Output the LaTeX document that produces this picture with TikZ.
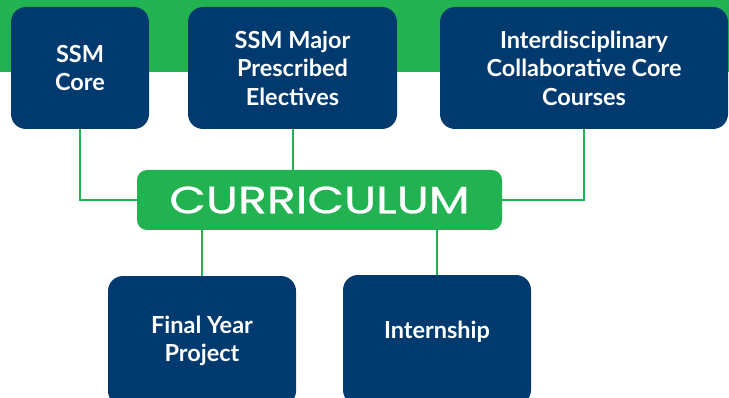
\documentclass[tikz,border=0pt]{standalone}
\usepackage{fontspec}
\setmainfont{Lato}
\newfontfamily\hubfont{Poppins}[FakeBold=0.6]
\usetikzlibrary{calc}
\definecolor{navy}{RGB}{0,58,110}
\definecolor{leaf}{RGB}{35,178,82}

\begin{document}
\begin{tikzpicture}[x=1pt,y=1pt,
  box/.style={fill=navy,text=white,rounded corners=15pt,minimum width=#1,minimum height=122pt,align=center,
    font=\fontsize{23.5}{28.5}\selectfont\bfseries,inner sep=0pt},
  hub/.style={fill=leaf,text=white,rounded corners=10pt,minimum width=365pt,minimum height=60pt,inner sep=0pt,
    font=\hubfont\fontsize{38}{40}\selectfont},
  link/.style={draw=leaf,line width=2pt}]
\useasboundingbox (0,0) rectangle (729,397);
% green band along the top
\fill[leaf] (0,325) rectangle (729,397);
\node[hub] (hub) at (319.5,197) {\scalebox{1.25}[1]{CURRICULUM}};
\node[box=138pt] (core) at (80,329) {SSM\\Core};
\node[box=209pt] (major) at (292.5,329) {SSM Major\\Prescribed\\Electives};
\node[box=288pt] (inter) at (584,329) {Interdisciplinary\\Collaborative Core\\Courses};
\node[box=188pt,minimum height=130pt] (fyp) at (202,56) {Final Year\\Project};
\node[box=188pt,minimum height=130pt] (intern) at (437,57) {\raisebox{2pt}[0pt][0pt]{Internship}};
% connectors
\draw[link] (core.south) |- (hub.west);
\draw[link] (major.south) -- (major.south |- hub.north);
\draw[link] (inter.south) |- (hub.east);
\draw[link] (hub.south -| fyp.north) -- (fyp.north);
\draw[link] (hub.south -| intern.north) -- (intern.north);
\end{tikzpicture}
\end{document}
